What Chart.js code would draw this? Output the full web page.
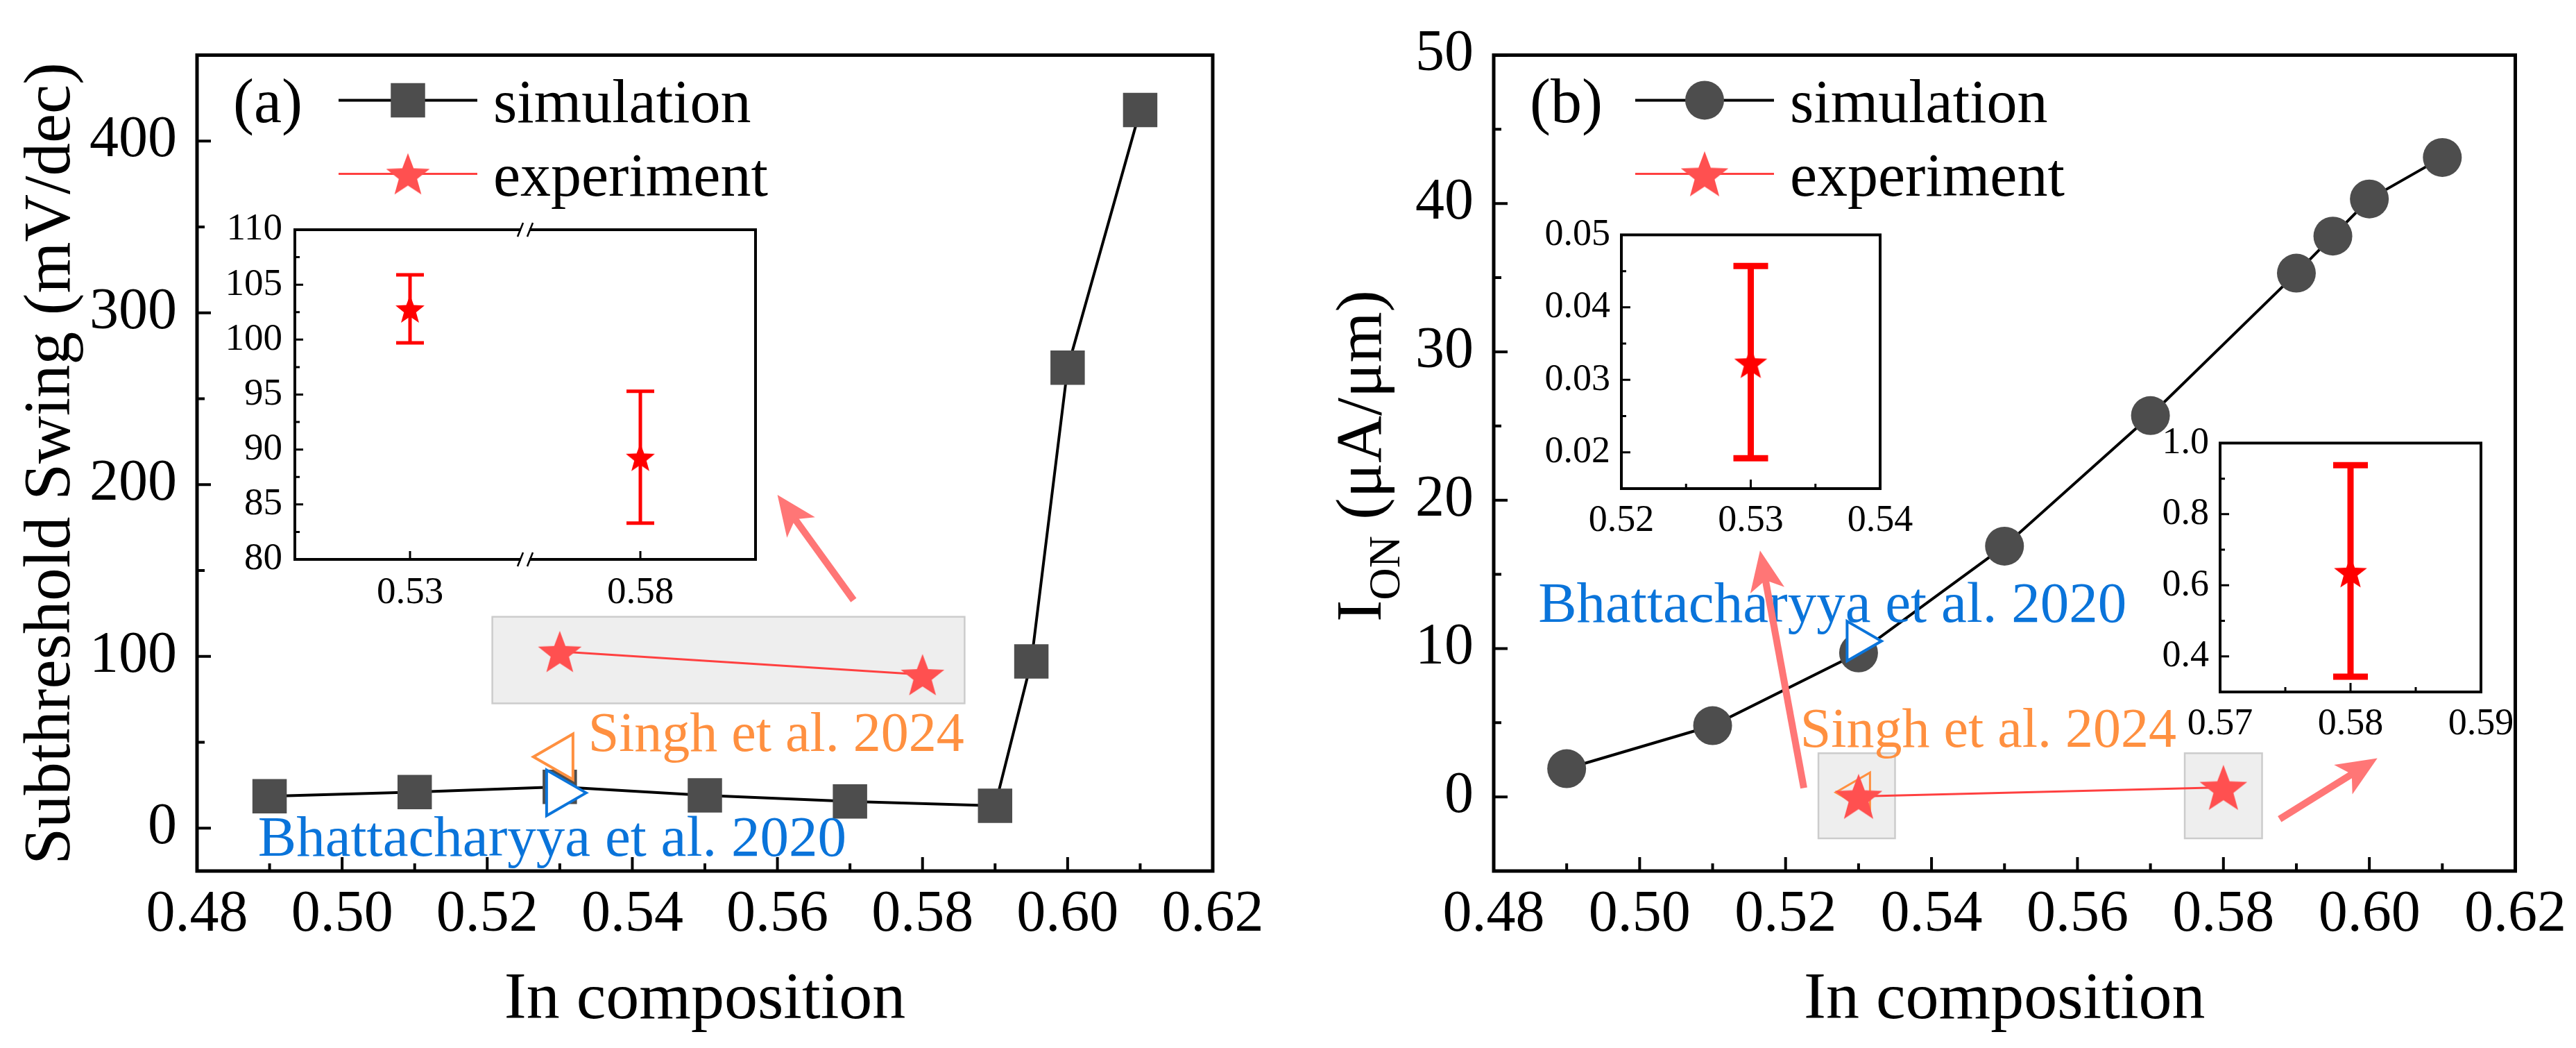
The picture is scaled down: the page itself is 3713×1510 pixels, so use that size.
<!DOCTYPE html>
<html lang="en">
<head>
<meta charset="UTF-8">
<title>In composition: subthreshold swing and on-current</title>
<style>
  body { margin: 0; background: #fff; width: 3713px; height: 1510px; position: relative; overflow: hidden; }
  canvas { position: absolute; }
</style>
<script src="https://cdn.jsdelivr.net/npm/chart.js"></script>
</head>
<body>
<canvas id="mainA" width="1850" height="1510" style="left:0;top:0"></canvas>
<canvas id="mainB" width="1863" height="1510" style="left:1850px;top:0"></canvas>
<canvas id="insetA" width="850" height="640" style="left:300px;top:280px"></canvas>
<canvas id="insetB1" width="620" height="560" style="left:2180px;top:290px"></canvas>
<canvas id="insetB2" width="640" height="500" style="left:3040px;top:590px"></canvas>

<script>
// ---- data ----
const composition = [0.49, 0.51, 0.53, 0.55, 0.57, 0.59, 0.595, 0.60, 0.61];
const swingSim = [18.5, 21, 24, 19, 15.5, 13, 97, 268, 418];      // mV/dec
const ionSim = [1.9, 4.8, 9.7, 16.9, 25.7, 35.3, 37.8, 40.3, 43.1]; // uA/um

const expComp = [0.53, 0.58];
const swingExp = [102.8, 89.3];
const swingExpLow = [99.7, 83.3];
const swingExpHigh = [105.9, 95.3];
const ionExp = [0.0324, 0.638];
const ionExpLow = [0.0192, 0.343];
const ionExpHigh = [0.0457, 0.938];

const refComp = [0.53];
const bhattSwing = [20.5];
const singhSwing = [41.5];
const bhattIon = [10.5];
const singhIon = [0.3];

const xTicks = [0.48, 0.50, 0.52, 0.54, 0.56, 0.58, 0.60, 0.62];
const swingTicks = [0, 100, 200, 300, 400];
const ionTicks = [0, 10, 20, 30, 40, 50];
const insetATicks = [80, 85, 90, 95, 100, 105, 110];
const insetALabels = ['0.53', '0.58'];
const insetB1XTicks = [0.52, 0.53, 0.54];
const insetB1YTicks = [0.02, 0.03, 0.04, 0.05];
const insetB2XTicks = [0.57, 0.58, 0.59];
const insetB2YTicks = [0.4, 0.6, 0.8, 1.0];

// ---- styling helpers ----
const FONT = "'Liberation Serif', 'Times New Roman', serif";
Chart.defaults.font.family = FONT;
Chart.defaults.color = '#000';
Chart.defaults.animation = false;
Chart.defaults.events = [];
Chart.defaults.plugins.legend.display = false;
Chart.defaults.plugins.tooltip.enabled = false;

const SIM_FILL = '#4d4d4d';
const EXP_RED = '#ff5050';
const ARROW = '#ff7676';
const BLUE = '#0a74da';
const ORANGE = '#ff9040';

function starImg(R, color) {
  const d = Math.ceil(2 * R + 2);
  const c = document.createElement('canvas');
  c.width = d; c.height = d;
  const g = c.getContext('2d');
  g.fillStyle = color;
  g.beginPath();
  for (let i = 0; i < 10; i++) {
    const r = i % 2 ? R * 0.42 : R;
    const a = -Math.PI / 2 + i * Math.PI / 5;
    g.lineTo(d / 2 + r * Math.cos(a), d / 2 + 0.095 * R + r * Math.sin(a));
  }
  g.closePath();
  g.fill();
  return c;
}

const minors = t => t.slice(1).map((v, i) => (v + t[i]) / 2);

function axis(o) {
  return {
    type: 'linear', min: o.min, max: o.max,
    afterBuildTicks: s => { s.ticks = o.ticks.map(v => ({ value: v })); },
    afterFit: s => { if (o.w != null) s.width = o.w; if (o.h != null) s.height = o.h; },
    ticks: { callback: o.fmt, font: { size: o.size }, color: '#000', padding: o.pad,
             autoSkip: false, maxRotation: 0, minRotation: 0 },
    grid: { display: false, drawTicks: false },
    border: { display: false }
  };
}

// white background + frame with inward ticks
const framePlugin = {
  id: 'frame',
  beforeDraw(chart, args, o) {
    const { ctx, chartArea: a } = chart;
    ctx.save();
    ctx.fillStyle = '#fff';
    if (o.fillAll) ctx.fillRect(0, 0, chart.width, chart.height);
    else ctx.fillRect(a.left, a.top, a.right - a.left, a.bottom - a.top);
    ctx.restore();
  },
  afterDraw(chart, args, o) {
    const { ctx, chartArea: a, scales: { x, y } } = chart;
    ctx.save();
    ctx.strokeStyle = '#000';
    ctx.lineWidth = o.tw;
    ctx.beginPath();
    x.ticks.forEach(t => { const p = x.getPixelForValue(t.value); ctx.moveTo(p, a.bottom); ctx.lineTo(p, a.bottom - o.major); });
    (o.xMinor || []).forEach(v => { const p = x.getPixelForValue(v); ctx.moveTo(p, a.bottom); ctx.lineTo(p, a.bottom - o.minor); });
    y.ticks.forEach(t => { const p = y.getPixelForValue(t.value); ctx.moveTo(a.left, p); ctx.lineTo(a.left + o.major, p); });
    (o.yMinor || []).forEach(v => { const p = y.getPixelForValue(v); ctx.moveTo(a.left, p); ctx.lineTo(a.left + o.minor, p); });
    ctx.stroke();
    ctx.lineWidth = o.lw;
    ctx.strokeRect(a.left, a.top, a.right - a.left, a.bottom - a.top);
    if (o.breakAt != null) {
      const p = x.getPixelForValue(o.breakAt);
      [a.top, a.bottom].forEach(yy => {
        ctx.fillStyle = '#fff';
        ctx.fillRect(p - 6, yy - 5, 12, 10);
        ctx.lineWidth = 2.5;
        ctx.beginPath();
        ctx.moveTo(p - 11, yy + 10); ctx.lineTo(p - 3, yy - 10);
        ctx.moveTo(p + 3, yy + 10); ctx.lineTo(p + 11, yy - 10);
        ctx.stroke();
      });
    }
    ctx.restore();
  }
};

// grey highlight boxes, arrows, notes, legend and axis titles of the main panels
function arrow(ctx, x0, y0, x1, y1, w, hl, hw) {
  const ang = Math.atan2(y1 - y0, x1 - x0);
  const c = Math.cos(ang), s = Math.sin(ang);
  const bx = x1 - hl * c, by = y1 - hl * s;
  ctx.strokeStyle = ARROW; ctx.fillStyle = ARROW;
  ctx.lineWidth = w;
  ctx.beginPath(); ctx.moveTo(x0, y0); ctx.lineTo(bx + 0.3 * hl * c, by + 0.3 * hl * s); ctx.stroke();
  ctx.beginPath();
  ctx.moveTo(x1, y1);
  ctx.lineTo(bx + hw / 2 * s, by - hw / 2 * c);
  ctx.lineTo(bx + 0.25 * hl * c, by + 0.25 * hl * s);
  ctx.lineTo(bx - hw / 2 * s, by + hw / 2 * c);
  ctx.closePath(); ctx.fill();
}

const decorPlugin = {
  id: 'decor',
  beforeDatasetsDraw(chart, args, o) {
    const { ctx, scales: { x, y } } = chart;
    ctx.save();
    (o.boxes || []).forEach(b => {
      const l = x.getPixelForValue(b[0]), r = x.getPixelForValue(b[1]);
      const t = y.getPixelForValue(b[3]), bt = y.getPixelForValue(b[2]);
      ctx.fillStyle = '#eeeeee'; ctx.fillRect(l, t, r - l, bt - t);
      ctx.strokeStyle = '#cccccc'; ctx.lineWidth = 2.5; ctx.strokeRect(l, t, r - l, bt - t);
    });
    ctx.restore();
  },
  afterDatasetsDraw(chart, args, o) {
    const { ctx, scales: { x, y } } = chart;
    ctx.save();
    (o.notes || []).forEach(n => {
      ctx.font = n.size + 'px ' + FONT;
      ctx.fillStyle = n.color; ctx.textAlign = 'left'; ctx.textBaseline = 'alphabetic';
      ctx.fillText(n.text, x.getPixelForValue(n.x), y.getPixelForValue(n.y));
    });
    (o.arrows || []).forEach(r => arrow(ctx, x.getPixelForValue(r[0]), y.getPixelForValue(r[1]),
      x.getPixelForValue(r[2]), y.getPixelForValue(r[3]), 10, 58, 50));
    ctx.restore();
  },
  afterDraw(chart, args, o) {
    const { ctx, chartArea: a } = chart;
    const ds = chart.data.datasets;
    ctx.save();
    ctx.fillStyle = '#000';
    ctx.textBaseline = 'alphabetic';
    ctx.textAlign = 'left';
    ctx.font = '90px ' + FONT;
    ctx.fillText(o.tag, a.left + 52, a.top + 97);
    [0, 1].forEach(i => {
      const d = ds[i];
      const my = a.top + (i ? 171 : 65);
      ctx.strokeStyle = d.borderColor; ctx.lineWidth = d.borderWidth;
      ctx.beginPath(); ctx.moveTo(a.left + 204, my); ctx.lineTo(a.left + 404, my); ctx.stroke();
      const mx = a.left + 304;
      if (d.pointStyle instanceof HTMLCanvasElement) {
        ctx.drawImage(d.pointStyle, mx - d.pointStyle.width / 2, my - d.pointStyle.height / 2);
      } else {
        ctx.fillStyle = d.backgroundColor;
        ctx.beginPath();
        if (d.pointStyle === 'rect') { const h = d.pointRadius * Math.SQRT1_2; ctx.rect(mx - h, my - h, 2 * h, 2 * h); }
        else ctx.arc(mx, my, d.pointRadius, 0, 2 * Math.PI);
        ctx.fill();
      }
      ctx.fillStyle = '#000';
      ctx.font = '88px ' + FONT;
      ctx.fillText(d.label, a.left + 427, my + 32);
    });
    // x title
    ctx.font = '96px ' + FONT;
    ctx.textAlign = 'center';
    ctx.fillText('In composition', (a.left + a.right) / 2, 1467);
    // y title (rotated, with optional subscript)
    ctx.translate(o.yTitleX, o.yTitleY);
    ctx.rotate(-Math.PI / 2);
    let total = 0;
    o.yTitle.forEach(p => { ctx.font = p.size + 'px ' + FONT; total += ctx.measureText(p.t).width; });
    let cx = -total / 2;
    ctx.textAlign = 'left';
    o.yTitle.forEach(p => {
      ctx.font = p.size + 'px ' + FONT;
      ctx.fillText(p.t, cx, p.dy || 0);
      cx += ctx.measureText(p.t).width;
    });
    ctx.restore();
  }
};

const errPlugin = {
  id: 'err',
  beforeDatasetsDraw(chart, args, o) {
    const { ctx, scales: { x, y } } = chart;
    ctx.save();
    ctx.strokeStyle = '#ff0000'; ctx.lineWidth = o.width; ctx.lineCap = 'butt';
    o.xs.forEach((xv, i) => {
      const p = x.getPixelForValue(xv), t = y.getPixelForValue(o.high[i]), b = y.getPixelForValue(o.low[i]);
      ctx.beginPath();
      ctx.moveTo(p, t); ctx.lineTo(p, b);
      ctx.moveTo(p - o.cap, t); ctx.lineTo(p + o.cap, t);
      ctx.moveTo(p - o.cap, b); ctx.lineTo(p + o.cap, b);
      ctx.stroke();
    });
    ctx.restore();
  }
};

const pts = (xs, ys) => xs.map((x, i) => ({ x, y: ys[i] }));
const fmt2 = v => v.toFixed(2);

// ---- panel (a) ----
new Chart(document.getElementById('mainA'), {
  type: 'scatter',
  data: { datasets: [
    { label: 'simulation', data: pts(composition, swingSim), showLine: true, borderColor: '#000', borderWidth: 4,
      pointStyle: 'rect', pointRadius: 35, backgroundColor: SIM_FILL, pointBorderWidth: 0, order: 4 },
    { label: 'experiment', data: pts(expComp, swingExp), showLine: true, borderColor: '#ff4040', borderWidth: 3,
      pointStyle: starImg(33, EXP_RED), order: 3 },
    { label: 'Singh et al. 2024', data: pts(refComp, singhSwing), pointStyle: 'triangle', rotation: -90, pointRadius: 38,
      backgroundColor: '#fff', borderColor: ORANGE, pointBorderWidth: 4, order: 2 },
    { label: 'Bhattacharyya et al. 2020', data: pts(refComp, bhattSwing), pointStyle: 'triangle', rotation: 90, pointRadius: 38,
      backgroundColor: '#fff', borderColor: BLUE, pointBorderWidth: 4, order: 1 }
  ]},
  options: {
    responsive: false, devicePixelRatio: 1,
    layout: { padding: { left: 0, top: 77, right: 102, bottom: 15 } },
    scales: {
      x: axis({ min: 0.48, max: 0.62, ticks: xTicks, fmt: fmt2, size: 84, pad: 14, h: 240 }),
      y: axis({ min: -25, max: 450, ticks: swingTicks, fmt: v => String(v), size: 84, pad: 29, w: 284 })
    },
    plugins: {
      frame: { fillAll: true, lw: 5, tw: 4, major: 20, minor: 11, xMinor: minors(xTicks), yMinor: minors(swingTicks) },
      decor: {
        tag: '(a)',
        yTitleX: 100,
        yTitleY: 668,
        yTitle: [{ t: 'Subthreshold Swing (mV/dec)', size: 95 }],
        boxes: [[0.5207, 0.5858, 72.6, 123]],
        arrows: [[0.5705, 132.7, 0.5600, 194]],
        notes: [
          { text: 'Singh et al. 2024', x: 0.5339, y: 44.8, color: ORANGE, size: 80 },
          { text: 'Bhattacharyya et al. 2020', x: 0.4884, y: -16, color: BLUE, size: 83 }
        ]
      }
    }
  },
  plugins: [framePlugin, decorPlugin]
});

// ---- panel (b) ----
new Chart(document.getElementById('mainB'), {
  type: 'scatter',
  data: { datasets: [
    { label: 'simulation', data: pts(composition, ionSim), showLine: true, borderColor: '#000', borderWidth: 4,
      pointStyle: 'circle', pointRadius: 28, backgroundColor: SIM_FILL, pointBorderWidth: 0, order: 4 },
    { label: 'experiment', data: pts(expComp, ionExp), showLine: true, borderColor: '#ff4040', borderWidth: 3,
      pointStyle: starImg(36, EXP_RED), order: 2 },
    { label: 'Singh et al. 2024', data: pts(refComp, singhIon), pointStyle: 'triangle', rotation: -90, pointRadius: 33,
      backgroundColor: 'rgba(255,255,255,0)', borderColor: ORANGE, pointBorderWidth: 3, order: 3 },
    { label: 'Bhattacharyya et al. 2020', data: pts(refComp, bhattIon), pointStyle: 'triangle', rotation: 90, pointRadius: 33,
      backgroundColor: '#fff', borderColor: BLUE, pointBorderWidth: 4, order: 1 }
  ]},
  options: {
    responsive: false, devicePixelRatio: 1,
    layout: { padding: { left: 0, top: 77, right: 87, bottom: 15 } },
    scales: {
      x: axis({ min: 0.48, max: 0.62, ticks: xTicks, fmt: fmt2, size: 84, pad: 14, h: 240 }),
      y: axis({ min: -5, max: 50, ticks: ionTicks, fmt: v => String(v), size: 84, pad: 29, w: 303 })
    },
    plugins: {
      frame: { fillAll: true, lw: 5, tw: 4, major: 20, minor: 11, xMinor: minors(xTicks), yMinor: minors(ionTicks) },
      decor: {
        tag: '(b)',
        yTitleX: 140,
        yTitleY: 657,
        yTitle: [{ t: 'I', size: 94 }, { t: 'ON', size: 64, dy: 27 }, { t: ' (\u03bcA/\u03bcm)', size: 94 }],
        boxes: [[0.5245, 0.5350, -2.8, 2.94], [0.5747, 0.5853, -2.8, 2.94]],
        arrows: [[0.5225, 0.6, 0.5165, 16.6], [0.5877, -1.5, 0.6011, 2.6]],
        notes: [
          { text: 'Bhattacharyya et al. 2020', x: 0.4861, y: 11.8, color: BLUE, size: 83 },
          { text: 'Singh et al. 2024', x: 0.5220, y: 3.36, color: ORANGE, size: 80 }
        ]
      }
    }
  },
  plugins: [framePlugin, decorPlugin]
});

// ---- inset of (a): broken x axis, 0.53 and 0.58 ----
const insetAPos = expComp.map((_, i) => 1 + 2 * i);
new Chart(document.getElementById('insetA'), {
  type: 'scatter',
  data: { datasets: [
    { data: pts(insetAPos, swingExp), pointStyle: starImg(22, '#ff0000') }
  ]},
  options: {
    responsive: false, devicePixelRatio: 1,
    layout: { padding: { left: 0, top: 42, right: 61, bottom: 0 } },
    scales: {
      x: axis({ min: 0, max: 4, ticks: insetAPos, fmt: (v, i) => insetALabels[i], size: 55, pad: 16, h: 114 }),
      y: axis({ min: 80, max: 110, ticks: insetATicks, fmt: v => String(v), size: 55, pad: 18, w: 125 })
    },
    plugins: {
      frame: { lw: 4, tw: 3, major: 12, minor: 7, yMinor: minors(insetATicks), breakAt: 2 },
      err: { xs: insetAPos, low: swingExpLow, high: swingExpHigh, width: 5, cap: 20 }
    }
  },
  plugins: [framePlugin, errPlugin]
});

// ---- insets of (b) ----
function ionInset(id, idx, xt, yt, xr, yr, pad, w, h) {
  new Chart(document.getElementById(id), {
    type: 'scatter',
    data: { datasets: [
      { data: [{ x: expComp[idx], y: ionExp[idx] }], pointStyle: starImg(25, '#ff0000') }
    ]},
    options: {
      responsive: false, devicePixelRatio: 1,
      layout: { padding: pad },
      scales: {
        x: axis({ min: xr[0], max: xr[1], ticks: xt, fmt: fmt2, size: 54, pad: 14, h }),
        y: axis({ min: yr[0], max: yr[1], ticks: yt, fmt: v => (yr[1] > 0.5 ? v.toFixed(1) : fmt2(v)), size: 54, pad: 16, w })
      },
      plugins: {
        frame: { lw: 4, tw: 3, major: 13, minor: 7, xMinor: minors(xt), yMinor: minors(yt) },
        err: { xs: [expComp[idx]], low: [ionExpLow[idx]], high: [ionExpHigh[idx]], width: 9, cap: 25 }
      }
    },
    plugins: [framePlugin, errPlugin]
  });
}
ionInset('insetB1', 0, insetB1XTicks, insetB1YTicks, [0.52, 0.54], [0.015, 0.05],
  { left: 0, top: 33, right: 90, bottom: 0 }, 157, 146);
ionInset('insetB2', 1, insetB2XTicks, insetB2YTicks, [0.57, 0.59], [0.3, 1.0],
  { left: 0, top: 31, right: 104, bottom: 0 }, 160, 93);
</script>
</body>
</html>
